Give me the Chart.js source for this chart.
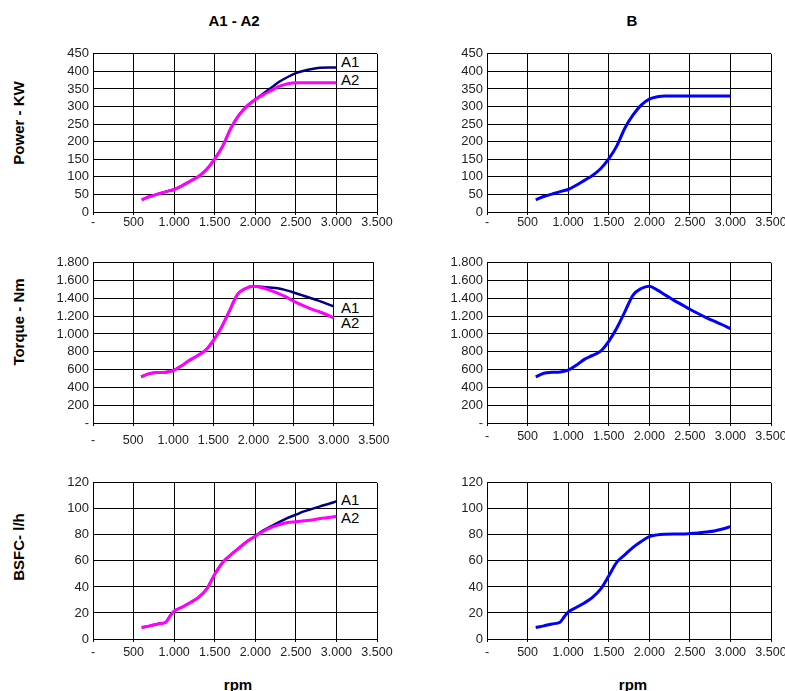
<!DOCTYPE html>
<html><head><meta charset="utf-8">
<script src="https://cdn.jsdelivr.net/npm/chart.js@4.4.1/dist/chart.umd.min.js"></script>
<style>
html,body{margin:0;padding:0;background:#fff;width:785px;height:691px;overflow:hidden;position:relative;font-family:"Liberation Sans",Arial,sans-serif;}
canvas{position:absolute;}
.t{position:absolute;font-weight:bold;font-size:15px;color:#000;white-space:nowrap;transform:translate(-50%,-50%);}
.rt{position:absolute;font-weight:bold;font-size:15px;color:#000;white-space:nowrap;transform:translate(-50%,-50%) rotate(-90deg);}
.lbl{position:absolute;font-size:15px;color:#000;transform:translateY(-50%);line-height:1;}
</style></head><body>
<div class="t" style="left:234px;top:20px">A1 - A2</div>
<div class="t" style="left:632px;top:20px">B</div>
<div class="rt" style="left:18px;top:123px">Power - KW</div>
<div class="rt" style="left:18px;top:322px">Torque - Nm</div>
<div class="rt" style="left:18px;top:547px">BSFC- l/h</div>
<div class="t" style="left:238px;top:684px">rpm</div>
<div class="t" style="left:633px;top:684px">rpm</div>
<div class="lbl" style="left:341px;top:61px">A1</div>
<div class="lbl" style="left:341px;top:79px">A2</div>
<div class="lbl" style="left:341px;top:307px">A1</div>
<div class="lbl" style="left:341px;top:322px">A2</div>
<div class="lbl" style="left:341px;top:499px">A1</div>
<div class="lbl" style="left:341px;top:517px">A2</div>
<canvas id="c1"></canvas><canvas id="c2"></canvas>
<canvas id="c3"></canvas><canvas id="c4"></canvas>
<canvas id="c5"></canvas><canvas id="c6"></canvas>
<script>
// ---- data ----
const rpm = [600,700,800,900,950,1000,1100,1200,1300,1400,1500,1600,1700,1800,1900,2000,2100,2200,2300,2400,2500,2600,2700,2800,2900,3000];

const powerA1 = [35,44,51,58,61,64,75,88,101,121,151,188,239,276,302,320,337,354,371,384,395,402,407,410,411,411];
const powerA2 = [35,44,51,58,61,64,75,88,101,121,151,188,239,276,302,320,334,346,358,365,368,368,368,368,368,368];
const powerB  = [35,44,51,58,61,64,76,90,104,123,151,188,239,276,304,321,328,330,330,330,330,330,330,330,330,330];

const torqueA1 = [520,555,567,570,578,589,641,704,756,815,926,1074,1259,1444,1511,1537,1530,1522,1515,1493,1467,1437,1407,1378,1344,1311];
const torqueA2 = [520,555,567,570,578,589,641,704,756,815,926,1074,1259,1444,1511,1537,1522,1493,1459,1419,1370,1326,1289,1256,1222,1181];
const torqueB  = [518,559,570,574,582,593,648,715,759,807,918,1067,1252,1437,1511,1537,1493,1437,1381,1330,1278,1230,1185,1144,1104,1059];

const bsfcA1 = [8.8,10.1,11.6,13.1,17.7,21.4,24.5,28,32,38.3,49.7,59,64.8,69.9,75,79,83.5,86.8,90,93,95.5,98,100,101.9,103.7,105.7];
const bsfcA2 = [8.8,10.1,11.6,13.1,17.7,21.4,24.5,28,32,38.3,49.7,59,64.8,69.9,75,79,82.8,85.8,88,89.5,90,90.8,91.5,92.6,93.3,94.3];
const bsfcB  = [8.8,10.1,11.6,12.9,16.9,20.7,24.2,27.7,32,38.3,48.4,59,64.8,70.4,74.9,78.7,80,80.5,80.7,80.7,81,81.5,82.2,83,84.5,86.3];

const xTicks = [0,500,1000,1500,2000,2500,3000,3500];
const xTickLabels = ['-','500','1.000','1.500','2.000','2.500','3.000','3.500'];
const powerTicks = [0,50,100,150,200,250,300,350,400,450];
const powerTickLabels = ['0','50','100','150','200','250','300','350','400','450'];
const torqueTicks = [0,200,400,600,800,1000,1200,1400,1600,1800];
const torqueTickLabels = ['-','200','400','600','800','1.000','1.200','1.400','1.600','1.800'];
const bsfcTicks = [0,20,40,60,80,100,120];
const bsfcTickLabels = ['0','20','40','60','80','100','120'];

// ---- helpers ----
const pts = ys => rpm.map((x,i)=>({x, y: ys[i]}));
function ds(label, ys, color, width, order){
  return {label, data: pts(ys), borderColor: color, backgroundColor: color, borderWidth: width,
    pointRadius: 0, tension: 0.4, cubicInterpolationMode: 'monotone', fill: false, order};
}
function make(id, left, top, w, h, yTicks, yLabels, datasets, xPad){
  const cv = document.getElementById(id);
  cv.width = w; cv.height = h;
  cv.style.left = left + 'px'; cv.style.top = top + 'px';
  new Chart(cv, {
    type: 'line',
    data: {datasets},
    options: {
      responsive: false, animation: false, devicePixelRatio: 1,
      layout: {padding: {top: 10, right: 20, left: 0, bottom: 0}},
      plugins: {legend: {display: false}, tooltip: {enabled: false}},
      scales: {
        x: {type: 'linear', min: 0, max: 3500,
          afterFit: s => { s.height = 30; },
          afterBuildTicks: s => { s.ticks = xTicks.map(v=>({value: v})); },
          ticks: {autoSkip: false, maxRotation: 0, padding: xPad, color: '#222',
            font: {family: '"Liberation Sans", Arial, sans-serif', size: 12.5},
            callback: v => xTickLabels[xTicks.indexOf(v)]},
          grid: {color: '#000', lineWidth: 1, tickLength: 3, drawTicks: true, tickColor: '#000'},
          border: {color: '#000', width: 1}
        },
        y: {type: 'linear', min: yTicks[0], max: yTicks[yTicks.length-1],
          afterFit: s => { s.width = 50; },
          afterBuildTicks: s => { s.ticks = yTicks.map(v=>({value: v})); },
          ticks: {autoSkip: false, padding: 4, color: '#222',
            font: {family: '"Liberation Sans", Arial, sans-serif', size: 13},
            callback: v => yLabels[yTicks.indexOf(v)]},
          grid: {color: '#000', lineWidth: 1, drawTicks: false},
          border: {color: '#000', width: 1}
        }
      }
    }
  });
}

const navy = '#000080', mag = '#ff00ff', blue = '#0000ff';
make('c1', 43, 42, 354, 200, powerTicks, powerTickLabels,
  [ds('A1', powerA1, navy, 2.5, 1), ds('A2', powerA2, mag, 3, 0)], 0);
make('c2', 437, 42, 354, 200, powerTicks, powerTickLabels,
  [ds('B', powerB, blue, 3, 0)], 0);
make('c3', 43, 251, 354, 202, torqueTicks, torqueTickLabels,
  [ds('A1', torqueA1, navy, 2.5, 1), ds('A2', torqueA2, mag, 3, 0)], 7.5);
make('c4', 437, 251, 354, 202, torqueTicks, torqueTickLabels,
  [ds('B', torqueB, blue, 3, 0)], 3.5);
make('c5', 43, 471, 354, 198, bsfcTicks, bsfcTickLabels,
  [ds('A1', bsfcA1, navy, 2.5, 1), ds('A2', bsfcA2, mag, 3, 0)], 3.5);
make('c6', 437, 471, 354, 198, bsfcTicks, bsfcTickLabels,
  [ds('B', bsfcB, blue, 3, 0)], 3.5);
</script>
</body></html>
